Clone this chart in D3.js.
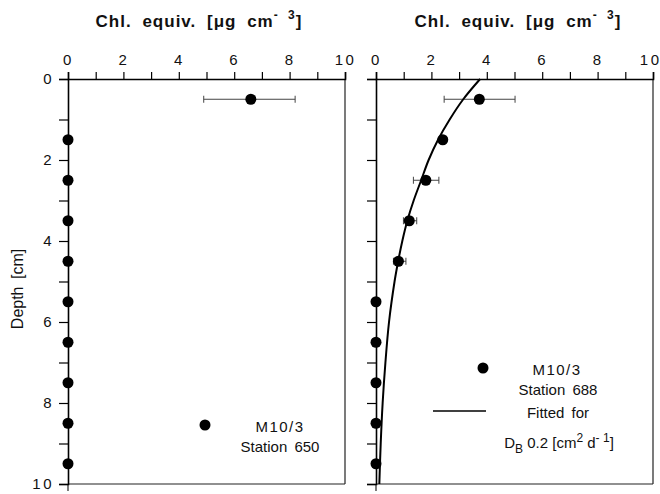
<!DOCTYPE html>
<html>
<head>
<meta charset="utf-8">
<script src="https://cdn.jsdelivr.net/npm/d3@7"></script>
<style>
  body { margin: 0; background: #fff; }
  text { font-family: "Liberation Sans", Arial, sans-serif; fill: #111; }
</style>
</head>
<body>
<svg id="chart" width="660" height="494"></svg>
<script>
// station 650 (left panel)
var depth650 = [0.5, 1.5, 2.5, 3.5, 4.5, 5.5, 6.5, 7.5, 8.5, 9.5];
var chl650 = [6.6, 0, 0, 0, 0, 0, 0, 0, 0, 0];
var errLo650 = [4.9, null, null, null, null, null, null, null, null, null];
var errHi650 = [8.2, null, null, null, null, null, null, null, null, null];

// station 688 (right panel)
var depth688 = [0.5, 1.5, 2.5, 3.5, 4.5, 5.5, 6.5, 7.5, 8.5, 9.5];
var chl688 = [3.73, 2.41, 1.80, 1.20, 0.81, 0, 0, 0, 0, 0];
var errLo688 = [2.46, null, 1.35, 0.99, 0.63, null, null, null, null, null];
var errHi688 = [5.02, null, 2.27, 1.47, 1.08, null, null, null, null, null];

// fitted curve
var fitDepth = [0, 0.5, 1, 1.5, 2, 2.5, 3, 3.5, 4, 4.5, 5, 6, 7, 8, 9, 10];
var fitChl = [3.76, 3.15, 2.66, 2.24, 1.90, 1.63, 1.36, 1.13, 0.95, 0.80, 0.67, 0.47, 0.34, 0.24, 0.17, 0.12];

var xTicks = [0, 1, 2, 3, 4, 5, 6, 7, 8, 9, 10];
var yTicks = [0, 1, 2, 3, 4, 5, 6, 7, 8, 9, 10];

var svg = d3.select("#chart");
var plotTop = 79, plotBottom = 484;

var yScale = d3.scaleLinear().domain([0, 10]).range([plotTop, plotBottom]);

function panel(x0, x1, depth, chl, lo, hi, showYLabels) {
    var xScale = d3.scaleLinear().domain([0, 10]).range([x0, x1]);
    var g = svg.append("g");

    // frame
    g.append("line").attr("x1", x1).attr("x2", x1).attr("y1", plotTop).attr("y2", plotBottom)
        .attr("stroke", "#222").attr("stroke-width", 1.2);
    g.append("line").attr("x1", x0).attr("x2", x1).attr("y1", plotBottom).attr("y2", plotBottom)
        .attr("stroke", "#222").attr("stroke-width", 1.2);
    // small tick below at x = 0
    g.append("line").attr("x1", x0).attr("x2", x0).attr("y1", plotBottom).attr("y2", plotBottom + 7)
        .attr("stroke", "#222").attr("stroke-width", 1.2);

    var xAxis = d3.axisTop(xScale).tickValues(xTicks).tickSize(7).tickPadding(7)
        .tickFormat(function (d) { return d % 2 === 0 ? d : ""; });
    var ax = g.append("g").attr("transform", "translate(0," + plotTop + ")").call(xAxis);
    ax.select(".domain").attr("stroke-width", 1.6);
    ax.selectAll(".tick line").attr("stroke-width", 1.2);
    ax.selectAll("text").style("font-size", "15px").style("letter-spacing", "2.5px")
        .attr("font-family", "Liberation Sans, Arial, sans-serif").attr("fill", "#111");
    if (!showYLabels) {
        // keep the last label inside the page
        ax.selectAll(".tick").filter(function (d) { return d === 10; }).select("text")
            .attr("text-anchor", "end").attr("dx", 8);
    }

    var yAxis = d3.axisLeft(yScale).tickValues(yTicks).tickSize(9).tickPadding(5)
        .tickFormat(function (d) { return showYLabels && d % 2 === 0 ? d : ""; });
    var ay = g.append("g").attr("transform", "translate(" + x0 + ",0)").call(yAxis);
    ay.select(".domain").attr("stroke-width", 1.6);
    ay.selectAll(".tick line").attr("stroke-width", 1.2);
    ay.selectAll("text").style("font-size", "15px").style("letter-spacing", "2.5px")
        .attr("font-family", "Liberation Sans, Arial, sans-serif").attr("fill", "#111");

    // error bars
    var bars = depth.map(function (d, i) { return {d: d, lo: lo[i], hi: hi[i]}; })
        .filter(function (e) { return e.lo !== null; });
    g.selectAll(".err").data(bars).enter().append("line")
        .attr("x1", function (e) { return xScale(e.lo); })
        .attr("x2", function (e) { return xScale(e.hi); })
        .attr("y1", function (e) { return yScale(e.d); })
        .attr("y2", function (e) { return yScale(e.d); })
        .attr("stroke", "#444").attr("stroke-width", 1);
    ["lo", "hi"].forEach(function (k) {
        g.selectAll(".cap-" + k).data(bars).enter().append("line")
            .attr("x1", function (e) { return xScale(e[k]); })
            .attr("x2", function (e) { return xScale(e[k]); })
            .attr("y1", function (e) { return yScale(e.d) - 3.5; })
            .attr("y2", function (e) { return yScale(e.d) + 3.5; })
            .attr("stroke", "#444").attr("stroke-width", 1);
    });

    g.selectAll(".dot").data(depth).enter().append("circle")
        .attr("cx", function (d, i) { return xScale(chl[i]); })
        .attr("cy", function (d) { return yScale(d); })
        .attr("r", 5.5).attr("fill", "#000");

    return {g: g, x: xScale};
}

function title(cx) {
    var t = svg.append("text").attr("x", cx).attr("y", 27).attr("text-anchor", "middle")
        .style("font-size", "17px").style("font-weight", "bold")
        .style("letter-spacing", "1px").style("word-spacing", "5px");
    t.append("tspan").text("Chl. equiv. [\u03bcg cm");
    t.append("tspan").attr("dy", -8).style("font-size", "12px").text("- 3");
    t.append("tspan").attr("dy", 8).text("]");
}

var left = panel(68, 345, depth650, chl650, errLo650, errHi650, true);
var right = panel(376, 653, depth688, chl688, errLo688, errHi688, false);

title(199);
title(518);

// fitted line
var line = d3.line()
    .x(function (d, i) { return right.x(fitChl[i]); })
    .y(function (d) { return yScale(d); })
    .curve(d3.curveCatmullRom);
right.g.append("path").datum(fitDepth).attr("d", line)
    .attr("fill", "none").attr("stroke", "#000").attr("stroke-width", 2);

// y axis title
svg.append("text").attr("transform", "translate(23,289) rotate(-90)")
    .attr("text-anchor", "middle").style("font-size", "16px").style("word-spacing", "3px")
    .text("Depth [cm]");

// legend left
svg.append("circle").attr("cx", 205).attr("cy", 425).attr("r", 5.5).attr("fill", "#000");
svg.append("text").attr("x", 280).attr("y", 432).attr("text-anchor", "middle")
    .style("font-size", "15px").style("letter-spacing", "1.5px").text("M10/3");
svg.append("text").attr("x", 280).attr("y", 452).attr("text-anchor", "middle")
    .style("font-size", "15px").style("word-spacing", "3px").text("Station 650");

// legend right
svg.append("circle").attr("cx", 483).attr("cy", 368).attr("r", 5.5).attr("fill", "#000");
svg.append("text").attr("x", 557).attr("y", 375).attr("text-anchor", "middle")
    .style("font-size", "15px").style("letter-spacing", "1.5px").text("M10/3");
svg.append("text").attr("x", 558).attr("y", 395).attr("text-anchor", "middle")
    .style("font-size", "15px").style("word-spacing", "3px").text("Station 688");
svg.append("line").attr("x1", 433).attr("x2", 486).attr("y1", 411).attr("y2", 411)
    .attr("stroke", "#000").attr("stroke-width", 1.5);
svg.append("text").attr("x", 558).attr("y", 418).attr("text-anchor", "middle")
    .style("font-size", "15px").style("word-spacing", "3px").text("Fitted for");
var db = svg.append("text").attr("x", 559).attr("y", 448).attr("text-anchor", "middle")
    .style("font-size", "15px");
db.append("tspan").text("D");
db.append("tspan").attr("dy", 5).style("font-size", "12px").text("B");
db.append("tspan").attr("dy", -5).text(" 0.2 [cm");
db.append("tspan").attr("dy", -6).style("font-size", "12px").text("2");
db.append("tspan").attr("dy", 6).text(" d");
db.append("tspan").attr("dy", -6).style("font-size", "12px").text("- 1");
db.append("tspan").attr("dy", 6).text("]");
</script>
</body>
</html>
